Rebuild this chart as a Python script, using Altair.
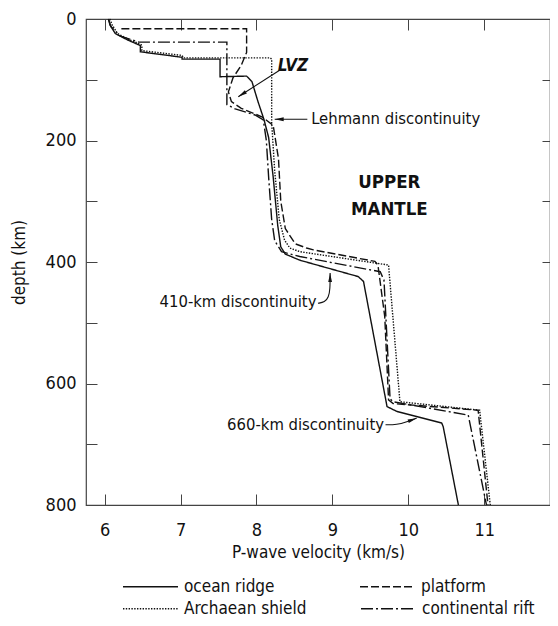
import math
import altair as alt
import pandas as pd

FONT = "Liberation Sans Narrow, Arial Narrow, DejaVu Sans Condensed, sans-serif"
INK = "#111111"
FRAME = "#444444"

# ---------------- data ----------------
row1_names = ["ocean ridge", "platform"]
row2_names = ["Archaean shield", "continental rift"]

ridge_v = [6.05, 6.07, 6.14, 6.31, 6.44, 6.47, 6.47, 7.02, 7.02, 7.52, 7.52, 7.87, 7.94,
           8.02, 8.10, 8.16, 8.22, 8.28, 8.32, 8.38, 8.57, 9.34, 9.41, 9.72, 9.85, 10.44,
           10.46, 10.66]
ridge_d = [0, 10, 24, 35, 42, 44, 54, 63, 66, 66, 95, 94, 103,
           136, 166, 195, 260, 340, 375, 387, 397, 424, 432, 638, 646, 665,
           671, 800]

platform_v = [6.22, 7.87, 7.87, 7.80, 7.69, 7.63, 7.67, 7.80, 8.07, 8.22, 8.29, 8.32,
              8.38, 8.51, 8.66, 8.75, 9.56, 9.60, 9.69, 9.74, 9.80, 10.92, 11.05]
platform_d = [16, 16, 55, 76, 97, 120, 136, 147, 161, 175, 230, 300,
              345, 370, 377, 380, 399, 405, 490, 627, 633, 644, 800]

shield_v = [6.07, 6.10, 6.17, 6.34, 6.46, 6.49, 6.49, 7.02, 7.04, 8.18, 8.20, 8.20,
            8.24, 8.30, 8.37, 8.44, 8.57, 9.74, 9.89, 10.94, 11.08]
shield_d = [0, 10, 24, 35, 41, 43, 52, 60, 64, 64, 66, 170,
            250, 330, 364, 377, 383, 405, 630, 644, 800]

rift_v = [6.05, 6.08, 6.20, 6.45, 7.61, 7.61, 7.72, 7.98, 8.09, 8.13, 8.16, 8.20,
          8.24, 8.33, 8.57, 9.63, 9.68, 9.76, 9.80, 10.79, 11.03]
rift_d = [0, 12, 28, 38, 38, 141, 148, 158, 166, 200, 260, 330,
          365, 383, 391, 416, 430, 625, 630, 652, 800]

# annotation texts
note_left_text = ["Lehmann discontinuity"]
note_left_v = [8.72]
note_left_d = [165]

note_right_text = ["410-km discontinuity", "660-km discontinuity"]
note_right_v = [8.79, 9.68]
note_right_d = [466, 668]

region_text = ["UPPER", "MANTLE"]
region_v = [9.75, 9.75]
region_d = [268, 313]

lvz_text = ["LVZ"]
lvz_v = [8.48]
lvz_d = [77]

# annotation arrows (last point is the arrow tip)
arrow_id = ["lvz", "lvz",
            "leh", "leh",
            "k410", "k410", "k410", "k410", "k410",
            "k660", "k660", "k660", "k660"]
arrow_v = [8.31, 7.76,
           8.67, 8.24,
           8.81, 8.90, 8.95, 8.97, 8.97,
           9.70, 9.85, 9.98, 10.11]
arrow_d = [84, 128,
           165, 165,
           468, 466, 458, 445, 418,
           668, 668, 663, 657]

x_ticks = [6, 7, 8, 9, 10, 11]
y_ticks = [0, 100, 200, 300, 400, 500, 600, 700, 800]
y_right_ticks = [100, 200, 300, 400, 500, 600, 700]

# ---------------- tables ----------------
def profile_table(items):
    rows = []
    for name, vs, ds in items:
        for i, (v, d) in enumerate(zip(vs, ds)):
            rows.append({"series": name, "idx": i, "v": v, "d": d})
    return pd.DataFrame(rows)


prof_a = profile_table([("ocean ridge", ridge_v, ridge_d),
                        ("platform", platform_v, platform_d)])
prof_b = profile_table([("Archaean shield", shield_v, shield_d),
                        ("continental rift", rift_v, rift_d)])

arrows = pd.DataFrame({"arrow": arrow_id, "v": arrow_v, "d": arrow_d})
arrows["idx"] = range(len(arrows))

W, H = 464, 486
XMIN, XMAX = 5.754, 11.867
px_x = W / (XMAX - XMIN)
px_y = H / 800.0
heads = []
for a in dict.fromkeys(arrow_id):
    sub = arrows[arrows["arrow"] == a]
    (v0, d0), (v1, d1) = sub[["v", "d"]].values[-2], sub[["v", "d"]].values[-1]
    dx = (v1 - v0) * px_x
    dy = (d1 - d0) * px_y
    ang = math.degrees(math.atan2(dx, -dy)) % 360
    heads.append({"v": v1, "d": d1, "angle": ang})
heads = pd.DataFrame(heads)


def xs():
    return alt.Scale(domain=[XMIN, XMAX], nice=False, zero=False)


def ys():
    return alt.Scale(domain=[0, 800], reverse=True, nice=False, zero=False)


x_bottom = alt.X("v:Q", scale=xs(), axis=alt.Axis(
    orient="bottom", values=x_ticks, title="P-wave velocity (km/s)", domain=False, grid=False,
    offset=-11, tickSize=11, tickColor=FRAME, labelPadding=16, labelFontSize=18,
    labelFont=FONT, labelColor=INK, titleFont=FONT, titleFontSize=17, titleFontWeight="normal",
    titleColor=INK, titlePadding=5))
y_left = alt.Y("d:Q", scale=ys(), axis=alt.Axis(
    orient="left", values=y_ticks, title="depth (km)", domain=False, grid=False,
    offset=-11, tickSize=11, tickColor=FRAME, labelPadding=10, labelFontSize=18,
    labelFont=FONT, labelColor=INK, labelExpr="datum.value % 200 == 0 ? datum.label : ''",
    titleFont=FONT, titleFontSize=17, titleFontWeight="normal", titleColor=INK,
    titlePadding=17))
x_top = alt.X("v:Q", scale=xs(), axis=alt.Axis(
    orient="top", values=x_ticks, title=None, labels=False, domain=False, grid=False,
    offset=-11, tickSize=11, tickColor=FRAME))
y_right = alt.Y("d:Q", scale=ys(), axis=alt.Axis(
    orient="right", values=y_right_ticks, title=None, labels=False, domain=False,
    grid=False, offset=-8, tickSize=8, tickColor=FRAME))


def x_plain():
    return alt.X("v:Q", scale=xs(), axis=None)


def y_plain():
    return alt.Y("d:Q", scale=ys(), axis=None)


def legend_row(y, col_pad):
    return alt.Legend(
        title=None, orient="none", legendX=36, legendY=y, direction="horizontal",
        symbolType="stroke", symbolSize=3025, symbolStrokeWidth=1.3,
        symbolStrokeColor=INK, labelFont=FONT, labelFontSize=17, labelColor=INK,
        labelOffset=5, columnPadding=col_pad, padding=0, labelLimit=300)


lines_a = alt.Chart(prof_a).mark_line(color=INK, strokeWidth=1.4, strokeCap="butt").encode(
    x=x_bottom,
    y=y_left,
    order=alt.Order("idx:Q"),
    strokeDash=alt.StrokeDash(
        "series:N",
        scale=alt.Scale(domain=row1_names, range=[[1, 0], [8, 3]]),
        legend=legend_row(539, 82),
    ),
)

lines_b = alt.Chart(prof_b).mark_line(color=INK, strokeWidth=1.4, strokeCap="butt").encode(
    x=x_plain(),
    y=y_plain(),
    order=alt.Order("idx:Q"),
    strokeDash=alt.StrokeDash(
        "series:N",
        scale=alt.Scale(domain=row2_names, range=[[1.4, 1.4], [12, 3, 2, 3]]),
        legend=legend_row(561, 51),
    ),
)

arrow_lines = alt.Chart(arrows).mark_line(color=INK, strokeWidth=1.1, interpolate="basis").encode(
    x=x_top, y=y_right, detail="arrow:N", order=alt.Order("idx:Q"))

arrow_heads = alt.Chart(heads).mark_point(
    shape="M0,0L0.42,2L-0.42,2Z", size=81, filled=True, color=INK, opacity=1
).encode(x=x_plain(), y=y_plain(), angle=alt.Angle("angle:Q", scale=None))

t_left = alt.Chart(pd.DataFrame({"t": note_left_text, "v": note_left_v, "d": note_left_d})).mark_text(
    align="left", baseline="middle", font=FONT, fontSize=16.5, color=INK
).encode(x=x_plain(), y=y_plain(), text="t:N")

t_right = alt.Chart(pd.DataFrame({"t": note_right_text, "v": note_right_v, "d": note_right_d})).mark_text(
    align="right", baseline="middle", font=FONT, fontSize=16.5, color=INK
).encode(x=x_plain(), y=y_plain(), text="t:N")

t_region = alt.Chart(pd.DataFrame({"t": region_text, "v": region_v, "d": region_d})).mark_text(
    align="center", baseline="middle", font=FONT, fontSize=18.5, fontWeight="bold", color=INK
).encode(x=x_plain(), y=y_plain(), text="t:N")

t_lvz = alt.Chart(pd.DataFrame({"t": lvz_text, "v": lvz_v, "d": lvz_d})).mark_text(
    align="center", baseline="middle", font=FONT, fontSize=17, fontWeight="bold",
    fontStyle="italic", color=INK
).encode(x=x_plain(), y=y_plain(), text="t:N")

chart = alt.layer(lines_a, arrow_lines, lines_b, arrow_heads, t_left, t_right, t_region, t_lvz).resolve_scale(
    x="independent", y="independent", strokeDash="independent"
).properties(
    width=W, height=H,
    autosize=alt.AutoSizeParams(type="none"),
    padding={"left": 78, "top": 11, "right": 0, "bottom": 113},
    background="white",
).configure_view(stroke=FRAME, strokeWidth=1.2)

chart.save("out.html", embed_options={"renderer": "svg", "actions": False})
